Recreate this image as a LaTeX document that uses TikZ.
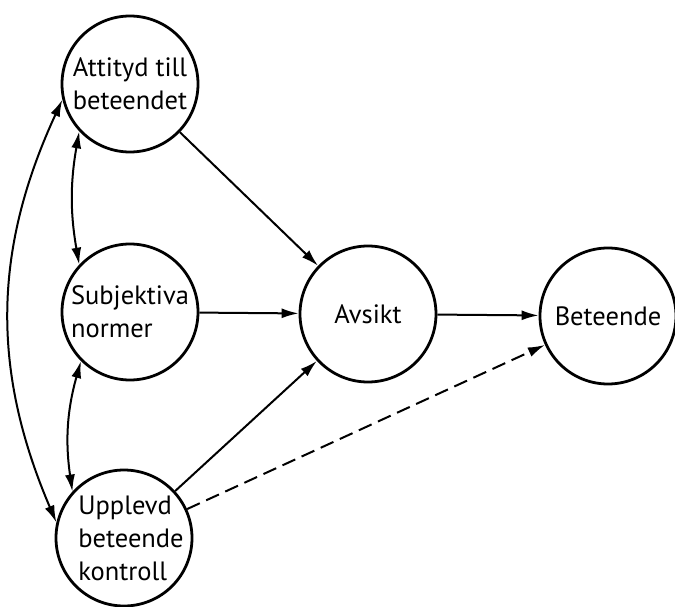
\documentclass[tikz,border=0pt]{standalone}
\usepackage{fontspec}
\setmainfont{PT Sans}
\usetikzlibrary{positioning}
\usetikzlibrary{arrows.meta}

\begin{document}
\begin{tikzpicture}[
    x=1pt, y=-1pt,
    >={Latex[length=17pt,width=10pt]},
    % node styles
    circ/.style = {
      circle,
      draw=black,
      line width=2.8pt,
      minimum size=136pt,
      inner sep=0pt
    },
    txt/.style = {
      align=left,
      font=\fontsize{26.5}{33}\selectfont
    },
    % arrow styles
    twoarr/.style = {<->, line width=2pt},
    arr/.style = {->, line width=2pt},
    dasharr/.style = {->, line width=2pt, dash pattern=on 14pt off 7pt}
  ]
  \useasboundingbox (0,0) rectangle (675,606);

  % --- Nodes
  \node[circ, label={[txt]center:{Attityd till\\beteendet}}] (att) at (130,84) {};

  \node[circ, label={[txt]center:{Subjektiva\\normer}}] (subj) at (130,312) {};

  \node[circ, label={[txt, xshift=7pt]center:{Upplevd\\beteende\\kontroll}}] (uppl) at (124,538) {};

  \node[circ, label={[txt]center:{Avsikt}}] (avs) at (368,314) {};

  \node[circ, label={[txt]center:{Beteende}}] (bet) at (608,316) {};

  % --- Arrows
  \draw[arr] (att) -- (avs);
  \draw[arr] (subj) -- (avs);
  \draw[arr] (uppl) -- (avs);
  \draw[arr] (avs) -- (bet);
  \draw[dasharr] (uppl) -- (bet);

  \draw[twoarr] (att.223) to[bend right=10] (subj.137);
  \draw[twoarr] (subj.225) to[bend right=12] (uppl.138);
  \draw[twoarr] (att.193) to[bend right=24] (uppl.167);

\end{tikzpicture}
\end{document}
